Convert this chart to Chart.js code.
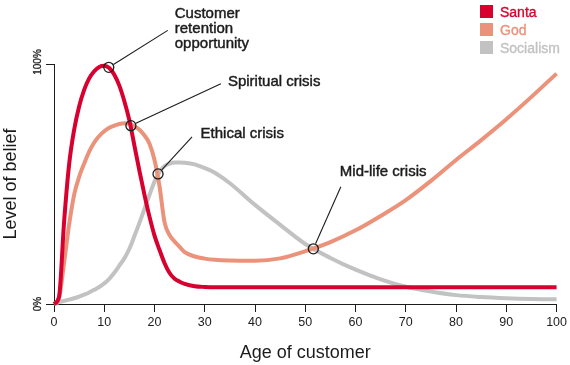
<!DOCTYPE html>
<html>
<head>
<meta charset="utf-8">
<script src="https://cdn.jsdelivr.net/npm/chart.js@4.4.0/dist/chart.umd.min.js"></script>
<style>
  body { margin: 0; background: #fff; }
  #wrap { width: 570px; height: 365px; }
</style>
</head>
<body>
<div id="wrap"><canvas id="chart" width="570" height="365"></canvas></div>
<script>
// age of customer (x) and level of belief in % (y)
const ages = [0, 1, 2, 3, 4, 5, 6, 7, 8, 9, 10, 11, 12, 13, 14, 15, 16, 17, 18, 19, 20, 21, 22, 23, 24, 25, 26, 28, 30, 32, 35, 40, 45, 50, 55, 60, 65, 70, 75, 80, 85, 90, 95, 100];
const santa = [0, 3, 34, 58, 72.5, 82.3, 89.2, 94, 97, 98.8, 99.3, 98.3, 95.5, 91, 84.5, 76.5, 66, 55.5, 45.5, 36.4, 28.5, 22.5, 17, 12.9, 10.5, 9.3, 8.4, 7.4, 7.1, 7, 7, 7, 7, 7, 7, 7, 7, 7, 7, 7, 7, 7, 7, 7];
const god = [0, 2.5, 17, 33, 45.5, 53, 58.5, 63.5, 67.3, 70, 72, 73.4, 74.3, 75, 75.3, 75.1, 74, 72.6, 70.2, 66.8, 60, 49, 34, 28.7, 26, 23.8, 21.6, 19.8, 18.9, 18.4, 18.1, 18, 19, 22, 25.8, 30.7, 36.7, 43.3, 51.3, 60, 68.3, 77, 86.3, 96];
const socialism = [0, 0.8, 1.3, 1.8, 2.4, 3.1, 3.9, 4.8, 5.9, 7.1, 8.6, 10.5, 13, 16, 19, 23, 28.3, 33.8, 39.6, 45.5, 51, 55, 57.5, 58.5, 59, 59, 58.9, 58.2, 56.6, 54.7, 50.3, 41.3, 33, 25, 19.2, 14.3, 10.3, 7.2, 5.2, 3.7, 2.9, 2.4, 2.1, 2];

const seriesNames = ['Santa', 'God', 'Socialism'];
const seriesColors = ['#d7002f', '#eb927b', '#c2c2c2'];

const yTickLabels = ['0%', '100%'];
const xTicks = [0, 10, 20, 30, 40, 50, 60, 70, 80, 90, 100];

// marked points
const calloutAge = [10.9, 15.3, 20.7, 51.6];
const calloutBelief = [98.6, 74.3, 54.2, 23];
const calloutText = [['Customer', 'retention', 'opportunity'], ['Spiritual crisis'], ['Ethical crisis'], ['Mid-life crisis']];

// where each leader line ends and its label sits, relative to the circle (px)
const calloutLayout = [
  { lx: 59, ly: -37, tx: 66, ty: -49 },
  { lx: 90, ly: -42, tx: 97, ty: -39.5 },
  { lx: 34, ly: -37, tx: 42.5, ty: -36 },
  { lx: 27.5, ly: -62, tx: 26.5, ty: -73 }
];

const ink = '#1c1c1c';
const fontFamily = '"Liberation Sans", Arial, sans-serif';

function toPoints(values) {
  return ages.map((a, i) => ({ x: a, y: values[i] }));
}

const lineSets = [santa, god, socialism].map((vals, i) => ({
  label: seriesNames[i],
  data: toPoints(vals),
  borderColor: seriesColors[i],
  borderWidth: 4,
  pointRadius: 0,
  fill: false,
  cubicInterpolationMode: 'monotone',
  clip: false,
  order: i + 1
}));

const calloutSet = {
  label: 'callouts',
  data: calloutAge.map((a, i) => ({ x: a, y: calloutBelief[i] })),
  showLine: false,
  pointRadius: 5,
  pointBorderWidth: 1.3,
  pointBorderColor: ink,
  pointBackgroundColor: 'rgba(0,0,0,0)',
  clip: false,
  order: 0
};

// slightly heavier text, closer to the medium weight of the original
function boldish(ctx, text, x, y) {
  ctx.fillText(text, x, y);
  ctx.strokeText(text, x, y);
}

const extras = {
  id: 'extras',
  afterDraw(chart) {
    const ctx = chart.ctx;
    const xs = chart.scales.x, ys = chart.scales.y;
    ctx.save();

    // callout leaders and labels
    ctx.strokeStyle = ink;
    ctx.lineWidth = 1.1;
    ctx.fillStyle = ink;
    ctx.font = '15px ' + fontFamily;
    ctx.textAlign = 'left';
    ctx.textBaseline = 'alphabetic';
    calloutAge.forEach((a, i) => {
      const cx = xs.getPixelForValue(a);
      const cy = ys.getPixelForValue(calloutBelief[i]);
      const l = calloutLayout[i];
      const len = Math.hypot(l.lx, l.ly);
      ctx.lineWidth = 1.1;
      ctx.beginPath();
      ctx.moveTo(cx + l.lx / len * 5.5, cy + l.ly / len * 5.5);
      ctx.lineTo(cx + l.lx, cy + l.ly);
      ctx.stroke();
      ctx.lineWidth = 0.45;
      calloutText[i].forEach((line, j) => {
        boldish(ctx, line, cx + l.tx, cy + l.ty + j * 14.7);
      });
    });

    // legend, top right
    ctx.font = '14px ' + fontFamily;
    ctx.lineWidth = 0.35;
    seriesNames.forEach((name, i) => {
      const top = 5 + i * 18;
      ctx.fillStyle = seriesColors[i];
      ctx.strokeStyle = seriesColors[i];
      ctx.fillRect(480, top, 13, 13);
      boldish(ctx, name, 500, top + 12.3);
    });

    // rotated y tick labels
    ctx.fillStyle = ink;
    ctx.strokeStyle = ink;
    ctx.lineWidth = 0.3;
    ctx.font = '10px ' + fontFamily;
    ctx.textAlign = 'center';
    ctx.textBaseline = 'middle';
    [0, 100].forEach((v, i) => {
      ctx.save();
      ctx.translate(38, ys.getPixelForValue(v) - (v ? 2 : 0));
      ctx.rotate(-Math.PI / 2);
      boldish(ctx, yTickLabels[i], 0, 0);
      ctx.restore();
    });
    ctx.restore();
  }
};

new Chart(document.getElementById('chart').getContext('2d'), {
  type: 'line',
  data: { datasets: [calloutSet, ...lineSets] },
  options: {
    responsive: false,
    animation: false,
    devicePixelRatio: 1,
    layout: { padding: { top: 64, right: 12, left: 0, bottom: 0 } },
    plugins: { legend: { display: false }, tooltip: { enabled: false } },
    scales: {
      x: {
        type: 'linear',
        min: 0,
        max: 100,
        afterBuildTicks: (scale) => { scale.ticks = xTicks.map(v => ({ value: v })); },
        afterFit: (scale) => { scale.height = 61; },
        grid: { drawOnChartArea: false, tickLength: 8, color: ink, lineWidth: 1 },
        border: { color: ink, width: 1 },
        ticks: { font: { size: 12.5, family: fontFamily }, color: ink, padding: 3, maxRotation: 0 },
        title: { display: true, text: 'Age of customer', color: ink, font: { size: 18, family: fontFamily }, padding: { top: 0, bottom: 1 } }
      },
      y: {
        min: 0,
        max: 100,
        afterBuildTicks: (scale) => { scale.ticks = [{ value: 0 }, { value: 100 }]; },
        afterFit: (scale) => { scale.width = 54; },
        grid: { drawOnChartArea: false, tickLength: 8, color: ink, lineWidth: 1 },
        border: { color: ink, width: 1 },
        ticks: { display: false },
        title: { display: true, text: 'Level of belief', color: ink, font: { size: 18, family: fontFamily }, padding: { top: 0, bottom: 0 } }
      }
    }
  },
  plugins: [extras]
});
</script>
</body>
</html>
